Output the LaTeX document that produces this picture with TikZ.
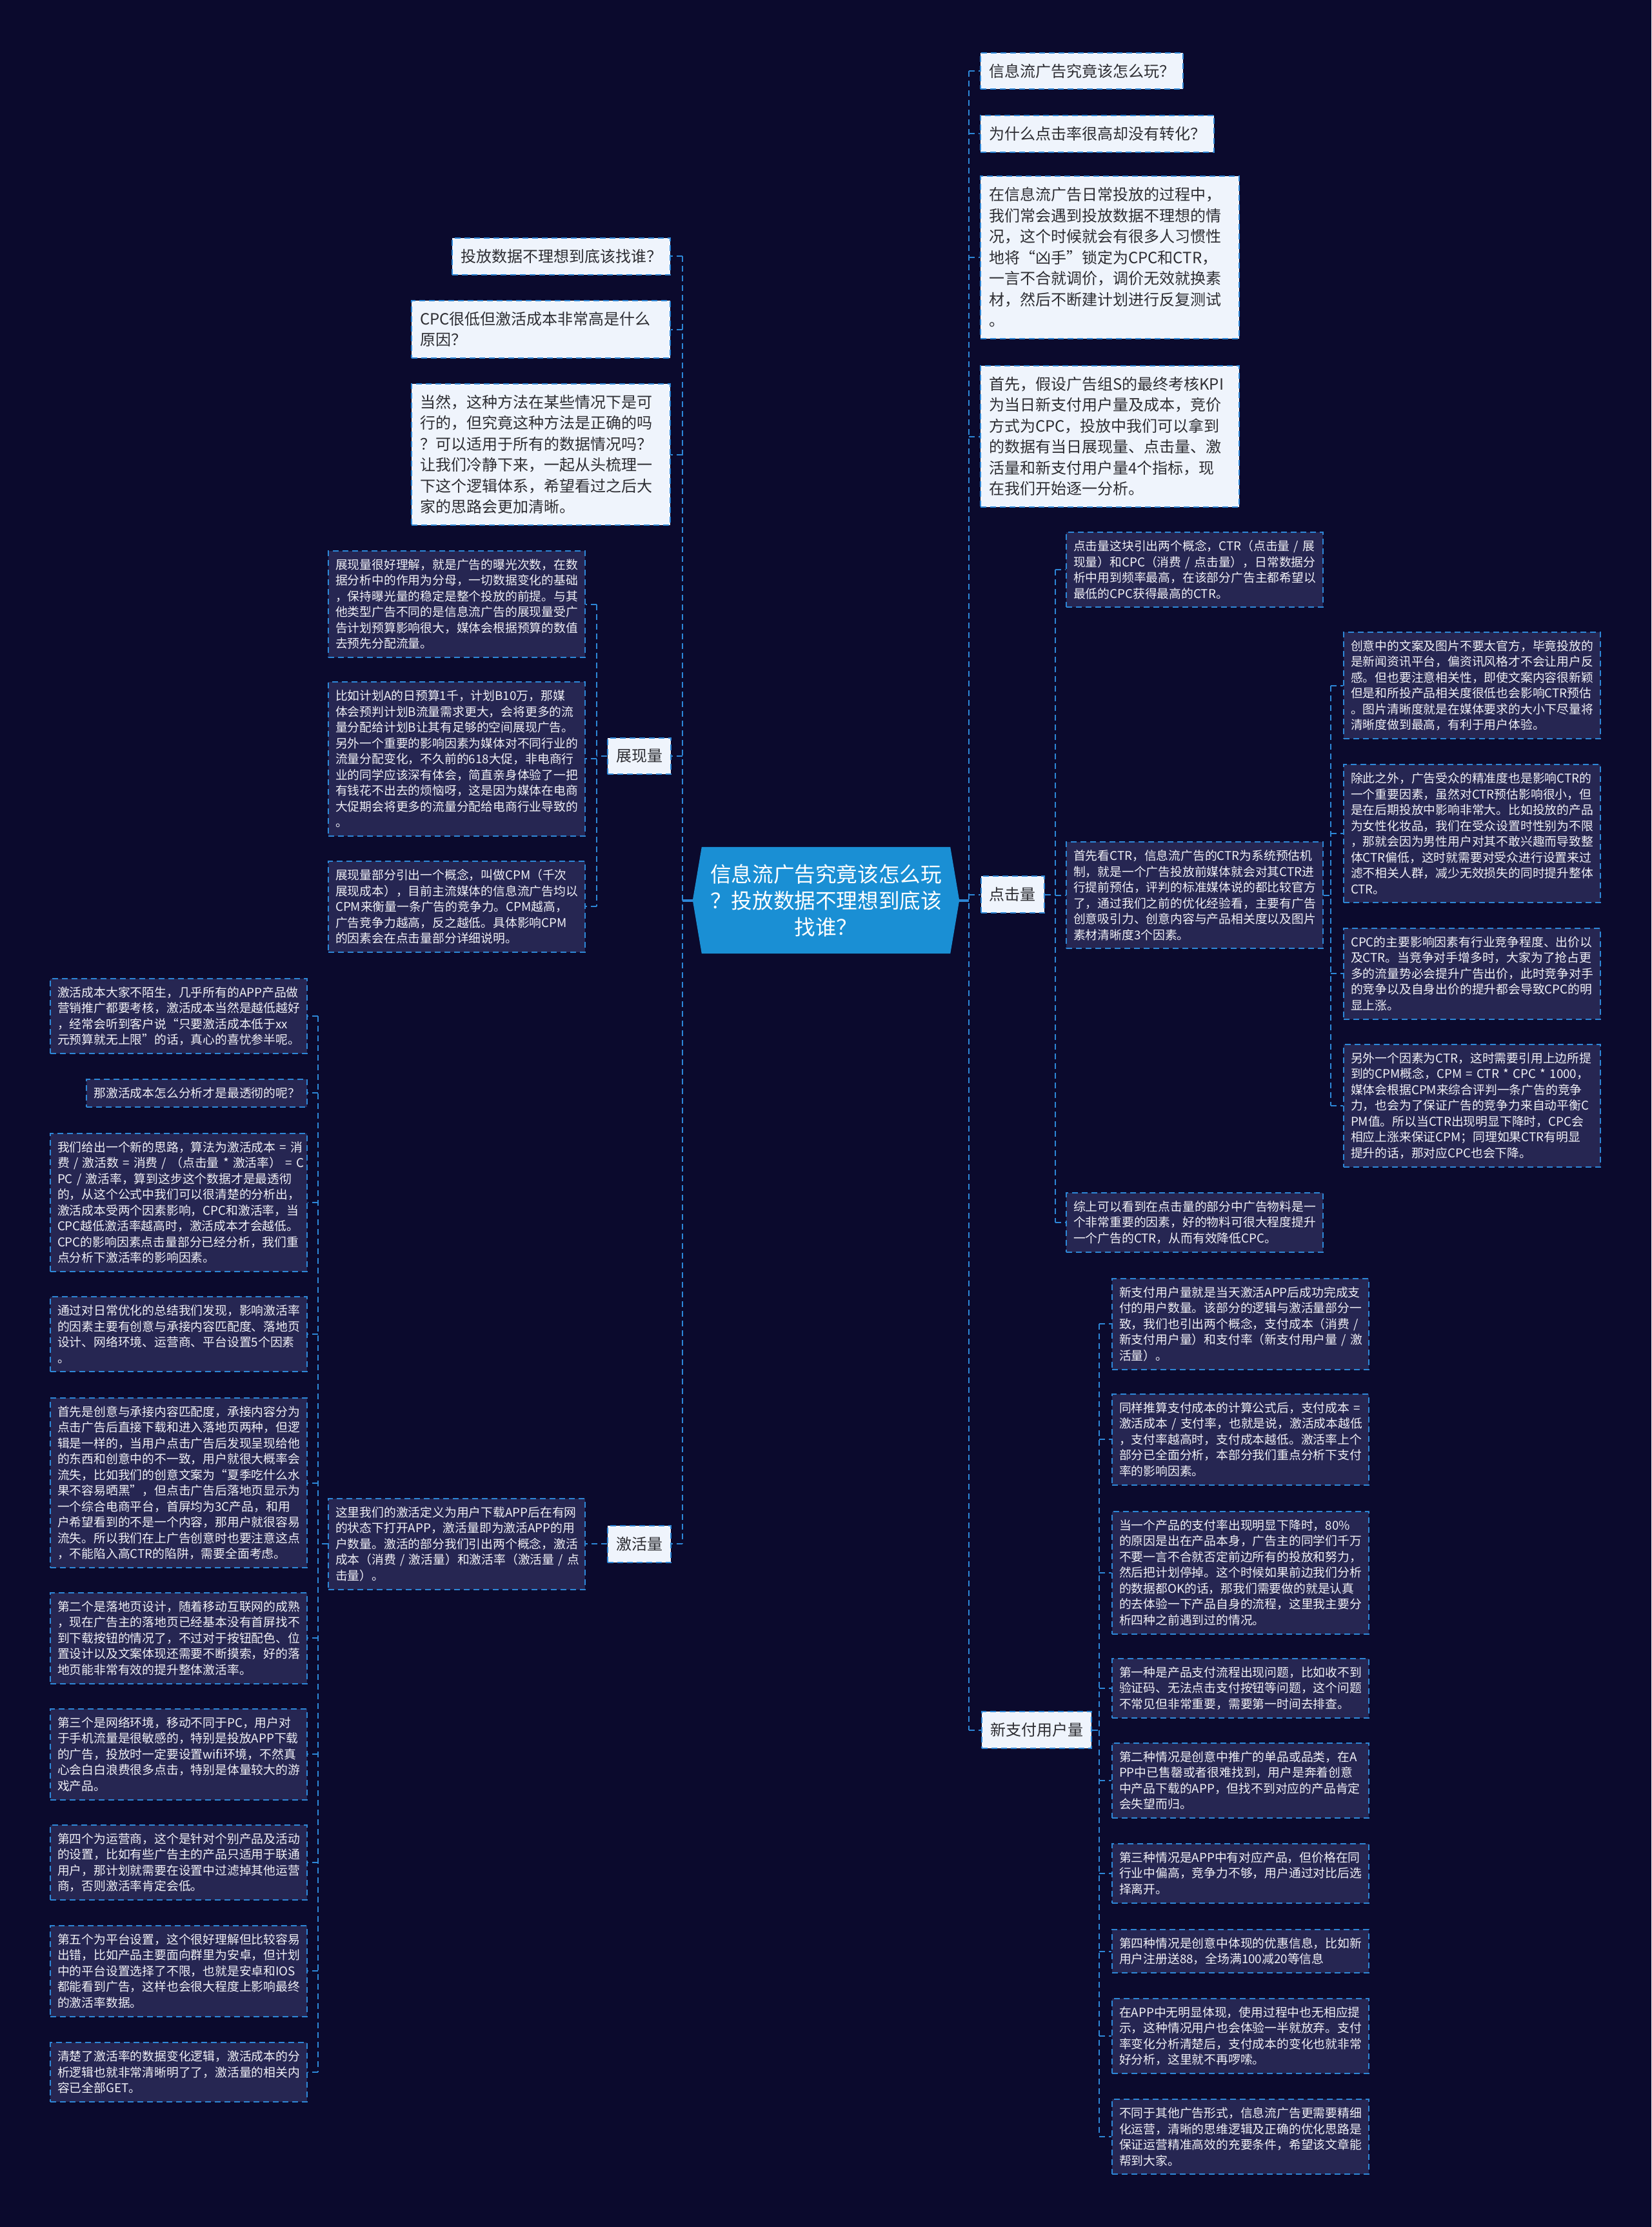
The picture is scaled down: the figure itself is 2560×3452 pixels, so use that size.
\documentclass[tikz,border=0pt]{standalone}
\usepackage{fontspec}
\setmainfont{Noto Sans CJK SC}
\usetikzlibrary{backgrounds,calc}
\definecolor{bgc}{RGB}{11,10,45}
\definecolor{linkc}{RGB}{45,135,215}
\definecolor{lightc}{RGB}{239,244,252}
\definecolor{leafc}{RGB}{38,38,82}
\definecolor{centc}{RGB}{26,143,212}
\definecolor{darktext}{RGB}{45,45,50}
\definecolor{leaftext}{RGB}{240,240,246}
\hfuzz=50pt
\tikzset{
  conn/.style={draw=linkc, line width=2pt, dash pattern=on 9pt off 6pt},
  mainconn/.style={draw=linkc, line width=4pt},
  lightbase/.style={rectangle, fill=lightc, draw=linkc, line width=2pt, dash pattern=on 9pt off 6pt,
    text=darktext, font=\fontsize{24pt}{32.5pt}\selectfont, inner xsep=13pt, inner ysep=0pt, align=left},
  lightw/.style={lightbase, text width=375pt, minimum height={32.5*#1+24}},
  lights/.style={lightbase, minimum height=56.5pt},
  leafbase/.style={rectangle, fill=leafc, draw=linkc, line width=2pt, dash pattern=on 9pt off 6pt,
    text=leaftext, font=\fontsize{18.8pt}{24.5pt}\selectfont, inner xsep=11pt, inner ysep=0pt, align=left},
  leaf/.style={leafbase, text width=376pt, minimum height={24.5*#1+18}},
  leafs/.style={leafbase, minimum height=42.5pt},
  cnode/.style={rectangle, draw=none, text=white, font=\fontsize{32.6pt}{41pt}\selectfont,
    align=center, text width=370pt, minimum width=413pt, minimum height=165pt, inner sep=0pt}
}
\begin{document}
\begin{tikzpicture}[x=1pt,y=-1pt]
\begin{scope}[on background layer]
\fill[bgc] (0,0) rectangle (2560,3452);
\end{scope}
\useasboundingbox (0,0) rectangle (2560,3452);

% ---------- centre ----------
\node[cnode] (c) at (1280.5,1395.5) {信息流广告究竟该怎么玩\\？投放数据不理想到底该\\找谁？};
\begin{scope}[on background layer]
\fill[centc] ($(c.north west)+(14,0)$) -- ($(c.north east)+(-14,0)$) -- (c.east) -- ($(c.south east)+(-14,0)$) -- ($(c.south west)+(14,0)$) -- (c.west) -- cycle;
\end{scope}

% ---------- right top ----------
\node[lights, anchor=west] (q1) at (1519,110.25) {信息流广告究竟该怎么玩？};
\node[lights, anchor=west] (q2) at (1519,207.25) {为什么点击率很高却没有转化？};
\node[lightw=7, anchor=west] (q3) at (1519,398.75) {在信息流广告日常投放的过程中，\\我们常会遇到投放数据不理想的情\\况，这个时候就会有很多人习惯性\\地将“凶手”锁定为CPC和CTR，\\一言不合就调价，调价无效就换素\\材，然后不断建计划进行反复测试\\。};
\node[lightw=6, anchor=west] (q4) at (1519,676.5) {首先，假设广告组S的最终考核KPI\\为当日新支付用户量及成本，竞价\\方式为CPC，投放中我们可以拿到\\的数据有当日展现量、点击量、激\\活量和新支付用户量4个指标，现\\在我们开始逐一分析。};

% ---------- left top ----------
\node[lights, anchor=east] (p1) at (1040,397.25) {投放数据不理想到底该找谁？};
\node[lightw=2, anchor=east] (p2) at (1040,510.5) {CPC很低但激活成本非常高是什么\\原因？};
\node[lightw=6, anchor=east] (p3) at (1040,704.5) {当然，这种方法在某些情况下是可\\行的，但究竟这种方法是正确的吗\\？可以适用于所有的数据情况吗？\\让我们冷静下来，一起从头梳理一\\下这个逻辑体系，希望看过之后大\\家的思路会更加清晰。};

% ---------- branches ----------
\node[lights] (b1) at (991,1172) {展现量};
\node[lights] (b2) at (991,2393.25) {激活量};
\node[lights] (b3) at (1569.5,1386.5) {点击量};
\node[lights, anchor=west] (b4) at (1521,2681.5) {新支付用户量};

% ---------- 展现量 leaves ----------
\node[leaf=6, anchor=east] (L1) at (908,936.5) {展现量很好理解，就是广告的曝光次数，在数\\据分析中的作用为分母，一切数据变化的基础\\，保持曝光量的稳定是整个投放的前提。与其\\他类型广告不同的是信息流广告的展现量受广\\告计划预算影响很大，媒体会根据预算的数值\\去预先分配流量。};
\node[leaf=9, anchor=east] (L2) at (908,1176.25) {比如计划A的日预算1千，计划B10万，那媒\\体会预判计划B流量需求更大，会将更多的流\\量分配给计划B让其有足够的空间展现广告。\\另外一个重要的影响因素为媒体对不同行业的\\流量分配变化，不久前的618大促，非电商行\\业的同学应该深有体会，简直亲身体验了一把\\有钱花不出去的烦恼呀，这是因为媒体在电商\\大促期会将更多的流量分配给电商行业导致的\\。};
\node[leaf=5, anchor=east] (L3) at (908,1405.25) {展现量部分引出一个概念，叫做CPM（千次\\展现成本），目前主流媒体的信息流广告均以\\CPM来衡量一条广告的竞争力。CPM越高，\\广告竞争力越高，反之越低。具体影响CPM\\的因素会在点击量部分详细说明。};

% ---------- 激活量 ----------
\node[leaf=5, anchor=east] (M) at (908,2393.25) {这里我们的激活定义为用户下载APP后在有网\\的状态下打开APP，激活量即为激活APP的用\\户数量。激活的部分我们引出两个概念，激活\\成本（消费~/~激活量）和激活率（激活量~/~点\\击量）。};

\node[leaf=4, anchor=east] (A1) at (477,1575) {激活成本大家不陌生，几乎所有的APP产品做\\营销推广都要考核，激活成本当然是越低越好\\，经常会听到客户说“只要激活成本低于xx\\元预算就无上限”的话，真心的喜忧参半呢。};
\node[leafs, anchor=east] (A2) at (477,1694.25) {那激活成本怎么分析才是最透彻的呢？};
\node[leaf=8, anchor=east] (A3) at (477,1864) {我们给出一个新的思路，算法为激活成本~=~消\\费~/~激活数~=~消费~/~（点击量~*~激活率）~=~C\\PC~/~激活率，算到这步这个数据才是最透彻\\的，从这个公式中我们可以很清楚的分析出，\\激活成本受两个因素影响，CPC和激活率，当\\CPC越低激活率越高时，激活成本才会越低。\\CPC的影响因素点击量部分已经分析，我们重\\点分析下激活率的影响因素。};
\node[leaf=4, anchor=east] (A4) at (477,2068) {通过对日常优化的总结我们发现，影响激活率\\的因素主要有创意与承接内容匹配度、落地页\\设计、网络环境、运营商、平台设置5个因素\\。};
\node[leaf=10, anchor=east] (A5) at (477,2298.5) {首先是创意与承接内容匹配度，承接内容分为\\点击广告后直接下载和进入落地页两种，但逻\\辑是一样的，当用户点击广告后发现呈现给他\\的东西和创意中的不一致，用户就很大概率会\\流失，比如我们的创意文案为“夏季吃什么水\\果不容易晒黑”，但点击广告后落地页显示为\\一个综合电商平台，首屏均为3C产品，和用\\户希望看到的不是一个内容，那用户就很容易\\流失。所以我们在上广告创意时也要注意这点\\，不能陷入高CTR的陷阱，需要全面考虑。};
\node[leaf=5, anchor=east] (A6) at (477,2539.25) {第二个是落地页设计，随着移动互联网的成熟\\，现在广告主的落地页已经基本没有首屏找不\\到下载按钮的情况了，不过对于按钮配色、位\\置设计以及文案体现还需要不断摸索，好的落\\地页能非常有效的提升整体激活率。};
\node[leaf=5, anchor=east] (A7) at (477,2719.25) {第三个是网络环境，移动不同于PC，用户对\\于手机流量是很敏感的，特别是投放APP下载\\的广告，投放时一定要设置wifi环境，不然真\\心会白白浪费很多点击，特别是体量较大的游\\戏产品。};
\node[leaf=4, anchor=east] (A8) at (477,2887) {第四个为运营商，这个是针对个别产品及活动\\的设置，比如有些广告主的产品只适用于联通\\用户，那计划就需要在设置中过滤掉其他运营\\商，否则激活率肯定会低。};
\node[leaf=5, anchor=east] (A9) at (477,3055.25) {第五个为平台设置，这个很好理解但比较容易\\出错，比如产品主要面向群里为安卓，但计划\\中的平台设置选择了不限，也就是安卓和IOS\\都能看到广告，这样也会很大程度上影响最终\\的激活率数据。};
\node[leaf=3, anchor=east] (A10) at (477,3211.75) {清楚了激活率的数据变化逻辑，激活成本的分\\析逻辑也就非常清晰明了了，激活量的相关内\\容已全部GET。};

% ---------- 点击量 ----------
\node[leaf=4, anchor=west] (C1) at (1652,883) {点击量这块引出两个概念，CTR（点击量~/~展\\现量）和CPC（消费~/~点击量），日常数据分\\析中用到频率最高，在该部分广告主都希望以\\最低的CPC获得最高的CTR。};
\node[leaf=6, anchor=west] (C2) at (1652,1387.5) {首先看CTR，信息流广告的CTR为系统预估机\\制，就是一个广告投放前媒体就会对其CTR进\\行提前预估，评判的标准媒体说的都比较官方\\了，通过我们之前的优化经验看，主要有广告\\创意吸引力、创意内容与产品相关度以及图片\\素材清晰度3个因素。};
\node[leaf=3, anchor=west] (C3) at (1652,1894.75) {综上可以看到在点击量的部分中广告物料是一\\个非常重要的因素，好的物料可很大程度提升\\一个广告的CTR，从而有效降低CPC。};

\node[leaf=6, anchor=west] (R1) at (2082,1062.5) {创意中的文案及图片不要太官方，毕竟投放的\\是新闻资讯平台，偏资讯风格才不会让用户反\\感。但也要注意相关性，即使文案内容很新颖\\但是和所投产品相关度很低也会影响CTR预估\\。图片清晰度就是在媒体要求的大小下尽量将\\清晰度做到最高，有利于用户体验。};
\node[leaf=8, anchor=west] (R2) at (2082,1292) {除此之外，广告受众的精准度也是影响CTR的\\一个重要因素，虽然对CTR预估影响很小，但\\是在后期投放中影响非常大。比如投放的产品\\为女性化妆品，我们在受众设置时性别为不限\\，那就会因为男性用户对其不敢兴趣而导致整\\体CTR偏低，这时就需要对受众进行设置来过\\滤不相关人群，减少无效损失的同时提升整体\\CTR。};
\node[leaf=5, anchor=west] (R3) at (2082,1509.25) {CPC的主要影响因素有行业竞争程度、出价以\\及CTR。当竞争对手增多时，大家为了抢占更\\多的流量势必会提升广告出价，此时竞争对手\\的竞争以及自身出价的提升都会导致CPC的明\\显上涨。};
\node[leaf=7, anchor=west] (R4) at (2082,1713.75) {另外一个因素为CTR，这时需要引用上边所提\\到的CPM概念，CPM~=~CTR~*~CPC~*~1000，\\媒体会根据CPM来综合评判一条广告的竞争\\力，也会为了保证广告的竞争力来自动平衡C\\PM值。所以当CTR出现明显下降时，CPC会\\相应上涨来保证CPM；同理如果CTR有明显\\提升的话，那对应CPC也会下降。};

% ---------- 新支付用户量 ----------
\node[leaf=5, anchor=west] (N1) at (1723,2052.25) {新支付用户量就是当天激活APP后成功完成支\\付的用户数量。该部分的逻辑与激活量部分一\\致，我们也引出两个概念，支付成本（消费~/\\新支付用户量）和支付率（新支付用户量~/~激\\活量）。};
\node[leaf=5, anchor=west] (N2) at (1723,2231.25) {同样推算支付成本的计算公式后，支付成本~=\\激活成本~/~支付率，也就是说，激活成本越低\\，支付率越高时，支付成本越低。激活率上个\\部分已全面分析，本部分我们重点分析下支付\\率的影响因素。};
\node[leaf=7, anchor=west] (N3) at (1723,2437.75) {当一个产品的支付率出现明显下降时，80\%\\的原因是出在产品本身，广告主的同学们千万\\不要一言不合就否定前边所有的投放和努力，\\然后把计划停掉。这个时候如果前边我们分析\\的数据都OK的话，那我们需要做的就是认真\\的去体验一下产品自身的流程，这里我主要分\\析四种之前遇到过的情况。};
\node[leaf=3, anchor=west] (N4) at (1723,2616.75) {第一种是产品支付流程出现问题，比如收不到\\验证码、无法点击支付按钮等问题，这个问题\\不常见但非常重要，需要第一时间去排查。};
\node[leaf=4, anchor=west] (N5) at (1723,2760) {第二种情况是创意中推广的单品或品类，在A\\PP中已售罄或者很难找到，用户是奔着创意\\中产品下载的APP，但找不到对应的产品肯定\\会失望而归。};
\node[leaf=3, anchor=west] (N6) at (1723,2903.75) {第三种情况是APP中有对应产品，但价格在同\\行业中偏高，竞争力不够，用户通过对比后选\\择离开。};
\node[leaf=2, anchor=west] (N7) at (1723,3024.5) {第四种情况是创意中体现的优惠信息，比如新\\用户注册送88，全场满100减20等信息};
\node[leaf=4, anchor=west] (N8) at (1723,3156) {在APP中无明显体现，使用过程中也无相应提\\示，这种情况用户也会体验一半就放弃。支付\\率变化分析清楚后，支付成本的变化也就非常\\好分析，这里就不再啰嗦。};
\node[leaf=4, anchor=west] (N9) at (1723,3312) {不同于其他广告形式，信息流广告更需要精细\\化运营，清晰的思维逻辑及正确的优化思路是\\保证运营精准高效的充要条件，希望该文章能\\帮到大家。};

% ---------- connectors ----------
\coordinate (LT) at (1058,1395.5);
\coordinate (RT) at (1502,1395.5);
\coordinate (ZX) at (925,1172);
\coordinate (JH) at (493,2393.25);
\coordinate (DJ) at (1636,1386.5);
\coordinate (CS) at (2063,1387.5);
\coordinate (XZ) at (1704,2681.5);

\draw[mainconn] (c.west) -- (LT);
\draw[mainconn] (c.east) -- (RT);

\draw[conn] (LT |- p1.east) -- (LT |- b2.east);
\foreach \n in {p1,p2,p3,b1,b2} \draw[conn] (LT |- \n.east) -- (\n.east);

\draw[conn] (RT |- q1.west) -- (RT |- b4.west);
\foreach \n in {q1,q2,q3,q4,b3,b4} \draw[conn] (RT |- \n.west) -- (\n.west);

\draw[conn] (b1.west) -- (ZX |- b1.west);
\draw[conn] (ZX |- L1.east) -- (ZX |- L3.east);
\foreach \n in {L1,L2,L3} \draw[conn] (ZX |- \n.east) -- (\n.east);

\draw[conn] (b2.west) -- (M.east);
\draw[conn] (M.west) -- (JH |- M.west);
\draw[conn] (JH |- A1.east) -- (JH |- A10.east);
\foreach \n in {A1,A2,A3,A4,A5,A6,A7,A8,A9,A10} \draw[conn] (JH |- \n.east) -- (\n.east);

\draw[conn] (b3.east) -- (DJ |- b3.east);
\draw[conn] (DJ |- C1.west) -- (DJ |- C3.west);
\foreach \n in {C1,C2,C3} \draw[conn] (DJ |- \n.west) -- (\n.west);

\draw[conn] (C2.east) -- (CS |- C2.east);
\draw[conn] (CS |- R1.west) -- (CS |- R4.west);
\foreach \n in {R1,R2,R3,R4} \draw[conn] (CS |- \n.west) -- (\n.west);

\draw[conn] (b4.east) -- (XZ |- b4.east);
\draw[conn] (XZ |- N1.west) -- (XZ |- N9.west);
\foreach \n in {N1,N2,N3,N4,N5,N6,N7,N8,N9} \draw[conn] (XZ |- \n.west) -- (\n.west);
\end{tikzpicture}
\end{document}
